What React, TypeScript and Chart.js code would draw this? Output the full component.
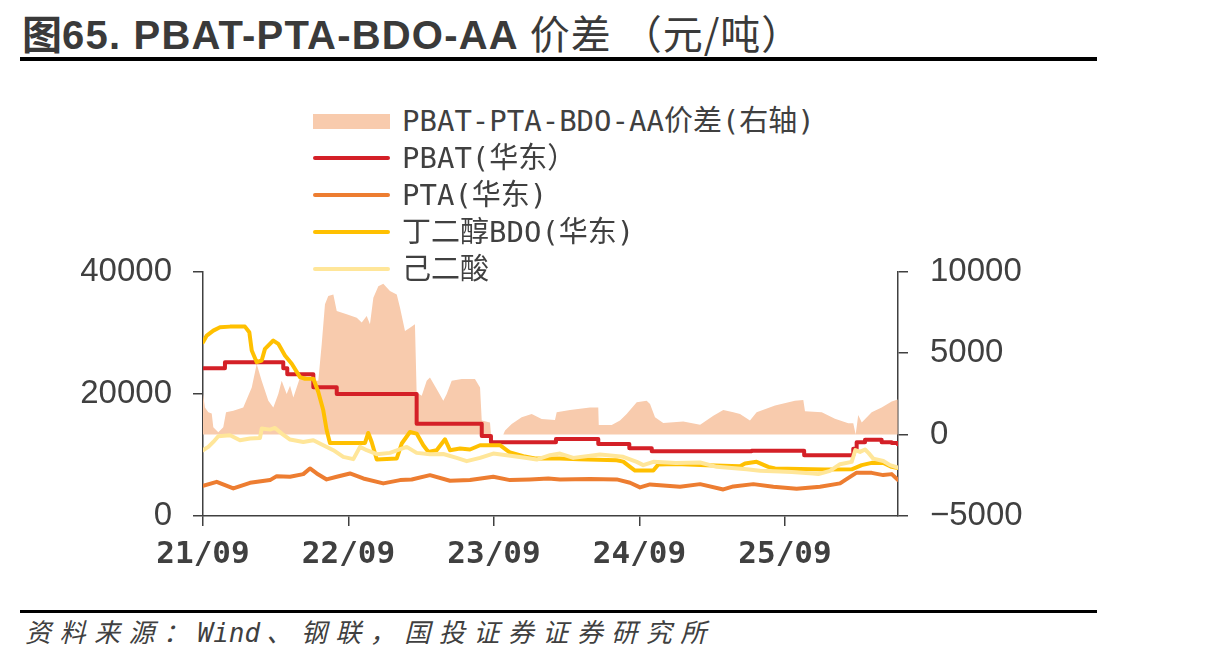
import React, { useEffect, useRef } from 'react';
import { Chart, registerables } from 'chart.js';

Chart.register(...registerables);

// Horizontal positions are months elapsed since September 2021.
const xTickLabels = ['21/09', '22/09', '23/09', '24/09', '25/09'];
const xMaxMonth = 57.32;

// PBAT - PTA - BDO - AA spread (right axis, 元/吨)
const spreadMonths = [
  0, 0.16, 0.44, 0.72, 0.85, 1.26, 1.67, 1.9, 2.5, 3.32, 4.02, 4.43, 4.84, 5.39, 5.8, 6.21, 6.49, 6.9,
  7.18, 7.45, 8.0, 8.41, 9.1, 9.51, 9.79, 10.06, 10.33, 10.75, 11.03, 11.85, 12.68, 13.09, 13.5, 13.77,
  14.05, 14.46, 14.87, 15.42, 15.98, 16.25, 16.66, 17.07, 17.48, 17.62, 18.04, 18.45, 18.72, 19.27,
  19.82, 20.1, 20.51, 21.34, 22.43, 22.85, 22.99, 23.67, 23.75, 24.77, 24.91, 25.46, 26.28, 27.11,
  27.93, 29.03, 29.17, 30.27, 31.92, 32.6, 32.64, 33.71, 34.39, 34.94, 35.77, 36.59, 36.87, 37.28,
  37.96, 39.61, 41.0, 42.09, 42.91, 43.74, 44.29, 45.11, 45.66, 47.18, 48.82, 49.51, 49.65, 51.03,
  52.12, 53.22, 53.63, 53.83, 54.04, 54.33, 55.15, 55.97, 56.8, 57.3,
];
const spreadValues = [
  2490, 1670, 1370, 1300, 450, 140, 450, 1370, 1470, 1670, 2900, 4330, 3310, 2080, 1670, 2490, 3310, 2490,
  3000, 2280, 3510, 3610, 3310, 3310, 5550, 8000, 8510, 8610, 7590, 7390, 7180, 6880, 7290, 6780,
  8410, 9120, 9260, 8820, 8610, 7790, 6370, 6570, 6780, 2590, 2390, 3310, 3510, 2800,
  2080, 2490, 3310, 3410, 3410, 2900, 860, 750, 0, 0, 250, 650, 1060, 1260,
  960, 900, 1370, 1510, 1670, 1670, 590, 590, 860, 1260, 1980, 2080, 1880, 1060,
  720, 800, 610, 1160, 1510, 1370, 1260, 860, 1370, 1780, 2080, 2120, 1430, 1370,
  980, 690, 700, 0, 1200, 750, 1370, 1670, 2040, 2150,
];

// PBAT (华东): price changes, each value held until the next change
const pbatMonths = [
  0, 1.81, 6.62, 6.95, 9.1, 11.03, 17.62, 22.99, 23.75, 29.11, 32.6, 35.16, 37.01, 45.25, 49.58,
  53.63, 53.91, 54.6, 55.97, 56.8, 57.3,
];
const pbatPrices = [
  24200, 25200, 24200, 23200, 21100, 20000, 15100, 13100, 12100, 12600, 11800, 11100, 10600, 10700, 9950,
  11000, 12100, 12500, 12100, 11950, 11750,
];

// PTA (华东)
const ptaMonths = [
  0, 1.13, 2.5, 3.88, 5.53, 6.08, 7.18, 8.27, 8.82, 9.38, 10.2, 11.03, 12.12, 13.22, 14.87, 16.25, 17.21,
  18.72, 20.37, 22.02, 23.94, 25.32, 26.97, 28.48, 29.44, 31.92, 34.12, 35.22, 36.04, 36.87, 39.34, 41.0,
  42.91, 43.74, 45.39, 47.04, 48.96, 50.89, 52.54, 52.95, 53.91, 55.15, 56.1, 56.8, 57.3,
];
const ptaPrices = [
  4950, 5600, 4520, 5440, 5880, 6530, 6420, 6860, 7790, 6970, 5990, 6420, 6970, 6150, 5340, 5880, 5990,
  6690, 5770, 5880, 6420, 5880, 5990, 6150, 5990, 6050, 5990, 5440, 4680, 5170, 4790, 5220,
  4350, 4850, 5220, 4790, 4460, 4790, 5340, 5880, 7100, 7070, 6700, 6860, 5950,
];

// 丁二醇 BDO (华东)
const bdoMonths = [
  0, 0.31, 0.85, 1.4, 2.23, 3.46, 3.82, 4.02, 4.43, 4.84, 5.11, 5.8, 6.21, 6.76, 7.32, 8.0, 8.41, 9.1,
  9.51, 9.92, 10.2, 10.47, 13.36, 13.63, 13.91, 14.33, 15.98, 16.39, 17.07, 17.62, 18.17, 18.58, 19.27,
  19.96, 20.37, 21.2, 22.02, 22.85, 24.49, 25.32, 26.42, 27.38, 29.44, 31.0, 34.12, 34.66, 35.22, 35.63,
  37.14, 37.55, 39.0, 41.54, 44.29, 44.7, 45.66, 46.62, 47.18, 51.3, 53.5, 54.33, 55.15, 56.11, 56.8, 57.3,
];
const bdoPrices = [
  28460, 29550, 30370, 30910, 31020, 31020, 30090, 27100, 25190, 25470, 27380, 28740, 28200, 26290, 24930,
  22740, 22480, 22480, 20300, 17310, 14040, 11970, 11970, 13600, 12130, 9250, 9420, 11870, 13760, 13500,
  11590, 10500, 10780, 12570, 10780, 11050, 10890, 11590, 11590, 10400, 9800, 9420, 9420, 9300, 9140,
  8900, 8050, 7450, 7450, 8450, 8500, 8330, 8160, 8600, 8870, 8050, 7790, 7620, 7650, 8330, 8710, 8700,
  8050, 7850,
];

// 己二酸 (adipic acid)
const aaMonths = [
  0, 0.44, 0.85, 1.26, 2.23, 3.05, 3.88, 4.7, 4.84, 5.53, 5.94, 6.49, 7.18, 8.27, 9.1, 9.92, 10.75, 11.57,
  12.4, 12.95, 13.5, 14.33, 15.42, 16.8, 17.62, 18.72, 19.82, 20.92, 21.75, 22.85, 23.94, 25.05, 26.42,
  27.52, 28.62, 29.44, 30.54, 32.74, 34.66, 35.77, 36.31, 37.14, 39.0, 41.0, 42.37, 44.84, 45.94, 47.59,
  48.55, 50.33, 50.75, 51.71, 52.54, 53.5, 53.8, 54.19, 54.6, 54.9, 55.28, 56.11, 56.66, 57.3,
];
const aaPrices = [
  10780, 11320, 12130, 13060, 13220, 12410, 12680, 12790, 14320, 14150, 14420, 13500, 12520, 12130, 12410,
  11590, 10780, 9690, 9310, 11320, 10780, 10120, 10340, 11320, 10340, 10100, 10150, 9520, 8980, 9520,
  10230, 9960, 9580, 9250, 9960, 10230, 9520, 10070, 9700, 8870, 8330, 8870, 8700, 8770, 8050, 7670,
  7400, 7300, 7200, 6970, 6860, 7400, 8490, 8870, 10800, 10500, 10890, 10300, 9400, 9000, 8330, 7950,
];

const SPREAD_COLOR = '#F8CBAD';
const PBAT_COLOR = '#D42027';
const PTA_COLOR = '#ED7D31';
const BDO_COLOR = '#FFC000';
const AA_COLOR = '#FFE699';
const TEXT_COLOR = '#404040';

const legendItems = [
  { label: 'PBAT-PTA-BDO-AA价差(右轴)', color: SPREAD_COLOR, kind: 'area' },
  { label: 'PBAT(华东）', color: PBAT_COLOR, kind: 'line' },
  { label: 'PTA(华东)', color: PTA_COLOR, kind: 'line' },
  { label: '丁二醇BDO(华东)', color: BDO_COLOR, kind: 'line' },
  { label: '己二酸', color: AA_COLOR, kind: 'line' },
];

const toPoints = (xs: number[], ys: number[]) => xs.map((x, i) => ({ x, y: ys[i] }));

const lineStyle = (color: string) => ({
  borderColor: color,
  backgroundColor: color,
  borderWidth: 4,
  pointRadius: 0,
  borderCapStyle: 'round' as const,
  borderJoinStyle: 'round' as const,
  fill: false,
  yAxisID: 'y',
});

const axisGrid = {
  display: true,
  drawOnChartArea: false,
  drawTicks: true,
  tickLength: 10,
  color: TEXT_COLOR,
  lineWidth: 1.5,
};
const axisBorder = { display: true, color: TEXT_COLOR, width: 1.5 };

// plain integer labels, with a true minus sign for negatives
const plainNumber = (v: any) => {
  const n = Number(v);
  return n < 0 ? '\u2212' + String(Math.abs(n)) : String(n);
};

export default function App() {
  const canvasRef = useRef<HTMLCanvasElement | null>(null);

  useEffect(() => {
    const canvas = canvasRef.current;
    if (!canvas) return;
    const chart = new Chart(canvas, {
      type: 'line',
      data: {
        datasets: [
          {
            label: 'PBAT-PTA-BDO-AA价差(右轴)',
            data: toPoints(spreadMonths, spreadValues),
            yAxisID: 'y1',
            fill: 'origin',
            backgroundColor: SPREAD_COLOR,
            borderColor: 'rgba(0,0,0,0)',
            borderWidth: 0,
            pointRadius: 0,
            order: 5,
          },
          {
            label: 'PBAT(华东）',
            data: toPoints(pbatMonths, pbatPrices),
            stepped: 'before',
            ...lineStyle(PBAT_COLOR),
            order: 4,
          },
          { label: 'PTA(华东)', data: toPoints(ptaMonths, ptaPrices), ...lineStyle(PTA_COLOR), order: 3 },
          { label: '丁二醇BDO(华东)', data: toPoints(bdoMonths, bdoPrices), ...lineStyle(BDO_COLOR), order: 2 },
          { label: '己二酸', data: toPoints(aaMonths, aaPrices), ...lineStyle(AA_COLOR), order: 1 },
        ] as any,
      },
      options: {
        animation: false,
        responsive: false,
        maintainAspectRatio: false,
        layout: { padding: { top: 41, left: 0, right: 0, bottom: 0 } },
        plugins: { legend: { display: false }, tooltip: { enabled: false } },
        elements: { line: { tension: 0 } },
        scales: {
          x: {
            type: 'linear',
            min: 0,
            max: xMaxMonth,
            grid: axisGrid,
            border: axisBorder,
            ticks: {
              stepSize: 12,
              includeBounds: false,
              maxRotation: 0,
              autoSkip: false,
              padding: 10,
              color: TEXT_COLOR,
              font: { family: '"DejaVu Sans Mono"', size: 31, weight: 'bold' },
              callback: (v: any) => xTickLabels[Math.round(Number(v) / 12)] ?? '',
            },
            afterFit: (s: any) => {
              s.height = 84;
            },
          },
          y: {
            position: 'left',
            min: 0,
            max: 40000,
            grid: axisGrid,
            border: axisBorder,
            ticks: {
              stepSize: 20000,
              padding: 21,
              color: TEXT_COLOR,
              font: { family: '"Liberation Sans"', size: 33 },
              callback: plainNumber,
            },
            afterFit: (s: any) => {
              s.width = 163;
            },
          },
          y1: {
            position: 'right',
            min: -5000,
            max: 10000,
            grid: axisGrid,
            border: axisBorder,
            ticks: {
              stepSize: 5000,
              padding: 22,
              color: TEXT_COLOR,
              font: { family: '"Liberation Sans"', size: 33 },
              callback: plainNumber,
            },
            afterFit: (s: any) => {
              s.width = 182;
            },
          },
        },
      } as any,
    });
    return () => chart.destroy();
  }, []);

  return (
    <div
      style={{
        position: 'absolute',
        left: 0,
        top: 0,
        width: 1213,
        height: 666,
        overflow: 'hidden',
        background: '#ffffff',
      }}
    >
      <div
        style={{
          position: 'absolute',
          left: 22,
          top: 9,
          whiteSpace: 'nowrap',
          fontSize: 40,
          lineHeight: '46px',
          color: '#3a3a3a',
        }}
      >
        <span style={{ fontFamily: '"Noto Sans CJK SC"', fontWeight: 700 }}>图</span>
        <span style={{ fontFamily: '"Liberation Sans"', fontWeight: 700, letterSpacing: 1.2 }}>
          65. PBAT-PTA-BDO-AA{' '}
        </span>
        <span style={{ fontFamily: '"Noto Sans CJK SC"', fontWeight: 400, letterSpacing: 1 }}>价差 （元/吨）</span>
      </div>
      <div style={{ position: 'absolute', left: 20, top: 57, width: 1077, height: 4, background: '#000' }} />

      <canvas
        ref={canvasRef}
        width={1040}
        height={370}
        style={{ position: 'absolute', left: 40, top: 230, width: 1040, height: 370 }}
      />

      {legendItems.map((item, i) => (
        <div
          key={item.label}
          style={{
            position: 'absolute',
            left: 313,
            top: 121 + i * 37 - 18,
            height: 36,
            display: 'flex',
            alignItems: 'center',
            whiteSpace: 'nowrap',
          }}
        >
          <div
            style={{
              width: 77,
              height: item.kind === 'area' ? 15 : 4,
              borderRadius: item.kind === 'area' ? 0 : 2,
              background: item.color,
            }}
          />
          <span
            style={{
              marginLeft: 12,
              fontFamily: '"DejaVu Sans Mono", "Noto Sans CJK SC"',
              fontSize: 29,
              lineHeight: '36px',
              color: TEXT_COLOR,
            }}
          >
            {item.label}
          </span>
        </div>
      ))}

      <div style={{ position: 'absolute', left: 20, top: 610, width: 1077, height: 3, background: '#000' }} />
      <div
        style={{
          position: 'absolute',
          left: 25,
          top: 616,
          whiteSpace: 'nowrap',
          fontFamily: '"DejaVu Sans Mono", "Noto Sans CJK SC"',
          fontStyle: 'italic',
          fontSize: 26,
          letterSpacing: 8.5,
          lineHeight: '34px',
          color: TEXT_COLOR,
        }}
      >
        资料来源：<span style={{ letterSpacing: 0, marginRight: 6 }}>Wind</span>、钢联，国投证券证券研究所
      </div>
    </div>
  );
}
